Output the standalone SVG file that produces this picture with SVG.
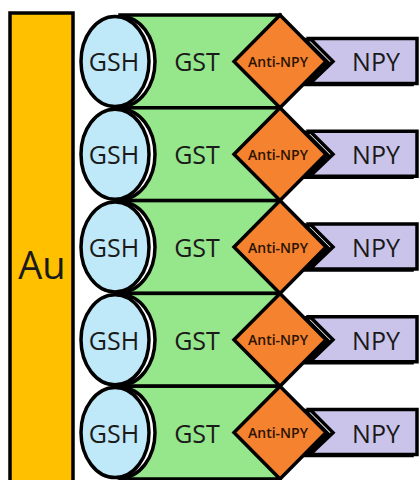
<svg xmlns="http://www.w3.org/2000/svg" width="419" height="480" viewBox="0 0 419 480">
  <style>
    .ol { stroke: #000; stroke-width: 3.5; stroke-linejoin: miter; }
    .au { fill: #FFC000; }
    .gsh { fill: #BFE8F8; }
    .gst { fill: #96E68B; }
    .anti { fill: #F5822F; }
    .npy { fill: #CBC4EA; }
    .shadow { fill: #fff; }
    text { font-family: "Open Sans", "Noto Sans", "DejaVu Sans", sans-serif; fill: #1a1a1a; text-anchor: middle; dominant-baseline: central; }
    .big { font-size: 38px; }
    .lbl { font-size: 25px; }
    .small { font-size: 14px; font-weight: 600; fill: #2a1200; }
  </style>
  <defs>
    <!-- one unit of each shape, centred on its row's mid-line -->
    <rect id="gstShape" x="120" y="-46.4" width="160" height="92.8"/>
    <polygon id="antiShape" points="280,-46.4 326,0 280,46.4 234,0"/>
    <polygon id="npyShape" points="310,-23 417,-23 417,22 310,22 333,0"/>
    <ellipse id="gshShape" cx="115" cy="0" rx="34" ry="45"/>
  </defs>

  <!-- gold substrate -->
  <g id="au">
    <rect class="au ol" x="10" y="13" width="63" height="480"/>
    <text class="big" x="42" y="264">Au</text>
  </g>

  <!-- GST blocks -->
  <g id="gst1" transform="translate(0,61.4)"><use href="#gstShape" class="gst ol"/><text class="lbl" x="197" y="0">GST</text></g>
  <g id="gst2" transform="translate(0,154.2)"><use href="#gstShape" class="gst ol"/><text class="lbl" x="197" y="0">GST</text></g>
  <g id="gst3" transform="translate(0,247)"><use href="#gstShape" class="gst ol"/><text class="lbl" x="197" y="0">GST</text></g>
  <g id="gst4" transform="translate(0,339.8)"><use href="#gstShape" class="gst ol"/><text class="lbl" x="197" y="0">GST</text></g>
  <g id="gst5" transform="translate(0,432.6)"><use href="#gstShape" class="gst ol"/><text class="lbl" x="197" y="0">GST</text></g>

  <!-- Anti-NPY diamonds -->
  <g id="anti1" transform="translate(0,61.4)"><use href="#antiShape" class="anti ol"/><text class="small" x="278" y="0">Anti-NPY</text></g>
  <g id="anti2" transform="translate(0,154.2)"><use href="#antiShape" class="anti ol"/><text class="small" x="278" y="0">Anti-NPY</text></g>
  <g id="anti3" transform="translate(0,247)"><use href="#antiShape" class="anti ol"/><text class="small" x="278" y="0">Anti-NPY</text></g>
  <g id="anti4" transform="translate(0,339.8)"><use href="#antiShape" class="anti ol"/><text class="small" x="278" y="0">Anti-NPY</text></g>
  <g id="anti5" transform="translate(0,432.6)"><use href="#antiShape" class="anti ol"/><text class="small" x="278" y="0">Anti-NPY</text></g>

  <!-- NPY tags -->
  <g id="npy1" transform="translate(0,61.4)"><use href="#npyShape" class="shadow ol" x="-5" y="1"/><use href="#npyShape" class="npy ol"/><text class="lbl" x="376" y="0">NPY</text></g>
  <g id="npy2" transform="translate(0,154.2)"><use href="#npyShape" class="shadow ol" x="-5" y="1"/><use href="#npyShape" class="npy ol"/><text class="lbl" x="376" y="0">NPY</text></g>
  <g id="npy3" transform="translate(0,247)"><use href="#npyShape" class="shadow ol" x="-5" y="1"/><use href="#npyShape" class="npy ol"/><text class="lbl" x="376" y="0">NPY</text></g>
  <g id="npy4" transform="translate(0,339.8)"><use href="#npyShape" class="shadow ol" x="-5" y="1"/><use href="#npyShape" class="npy ol"/><text class="lbl" x="376" y="0">NPY</text></g>
  <g id="npy5" transform="translate(0,432.6)"><use href="#npyShape" class="shadow ol" x="-5" y="1"/><use href="#npyShape" class="npy ol"/><text class="lbl" x="376" y="0">NPY</text></g>

  <!-- GSH linkers -->
  <g id="gsh1" transform="translate(0,61.4)"><use href="#gshShape" class="shadow ol" x="6"/><use href="#gshShape" class="gsh ol"/><text class="lbl" x="114" y="0">GSH</text></g>
  <g id="gsh2" transform="translate(0,154.2)"><use href="#gshShape" class="shadow ol" x="6"/><use href="#gshShape" class="gsh ol"/><text class="lbl" x="114" y="0">GSH</text></g>
  <g id="gsh3" transform="translate(0,247)"><use href="#gshShape" class="shadow ol" x="6"/><use href="#gshShape" class="gsh ol"/><text class="lbl" x="114" y="0">GSH</text></g>
  <g id="gsh4" transform="translate(0,339.8)"><use href="#gshShape" class="shadow ol" x="6"/><use href="#gshShape" class="gsh ol"/><text class="lbl" x="114" y="0">GSH</text></g>
  <g id="gsh5" transform="translate(0,432.6)"><use href="#gshShape" class="shadow ol" x="6"/><use href="#gshShape" class="gsh ol"/><text class="lbl" x="114" y="0">GSH</text></g>
</svg>
